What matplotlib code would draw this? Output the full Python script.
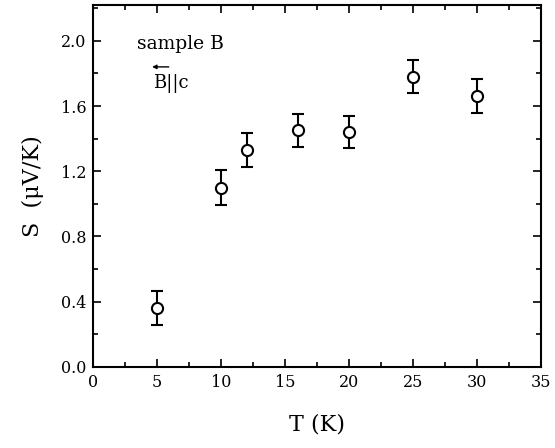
import matplotlib.pyplot as plt
from matplotlib.ticker import MultipleLocator

# datos
temp = [5, 10, 12, 16, 20, 25, 30]
seebeck = [0.36, 1.10, 1.33, 1.45, 1.44, 1.78, 1.66]
err = [0.105, 0.105, 0.105, 0.10, 0.10, 0.10, 0.105]

plt.rcParams['font.family'] = ['DejaVu Serif']

fig = plt.figure(figsize=(5.55, 4.48), dpi=100)
ax = fig.add_axes([0.168, 0.181, 0.807, 0.808])

ax.errorbar(temp, seebeck, yerr=err, fmt='o', mfc='white', mec='black', mew=1.5,
            ms=8, ecolor='black', elinewidth=1.5, capsize=4, capthick=1.5)

ax.set_xlim(0, 35)
ax.set_ylim(0, 2.22)
ax.xaxis.set_major_locator(MultipleLocator(5))
ax.xaxis.set_minor_locator(MultipleLocator(2.5))
ax.yaxis.set_major_locator(MultipleLocator(0.4))
ax.yaxis.set_minor_locator(MultipleLocator(0.2))
ax.yaxis.set_major_formatter(plt.FormatStrFormatter('%.1f'))
ax.tick_params(which='both', direction='in', top=True, right=True, width=1.2)
ax.tick_params(which='major', length=6, labelsize=11.5, pad=5)
ax.tick_params(which='minor', length=3.5)
for s in ax.spines.values():
    s.set_linewidth(1.5)

ax.set_xlabel('T (K)', fontsize=16, labelpad=16)
ax.set_ylabel('S  (μV/K)', fontsize=16, labelpad=12)

ax.text(3.4, 1.98, 'sample B', fontsize=13.5, va='center', ha='left')
ax.text(4.7, 1.74, 'B||c', fontsize=13, va='center', ha='left')
# flecha sobre la B
ax.annotate('', xy=(4.6, 1.84), xytext=(5.9, 1.84),
            arrowprops=dict(arrowstyle='-|>', color='black', lw=1,
                            mutation_scale=6, shrinkA=0, shrinkB=0))

fig.savefig('out.png', dpi=100)
